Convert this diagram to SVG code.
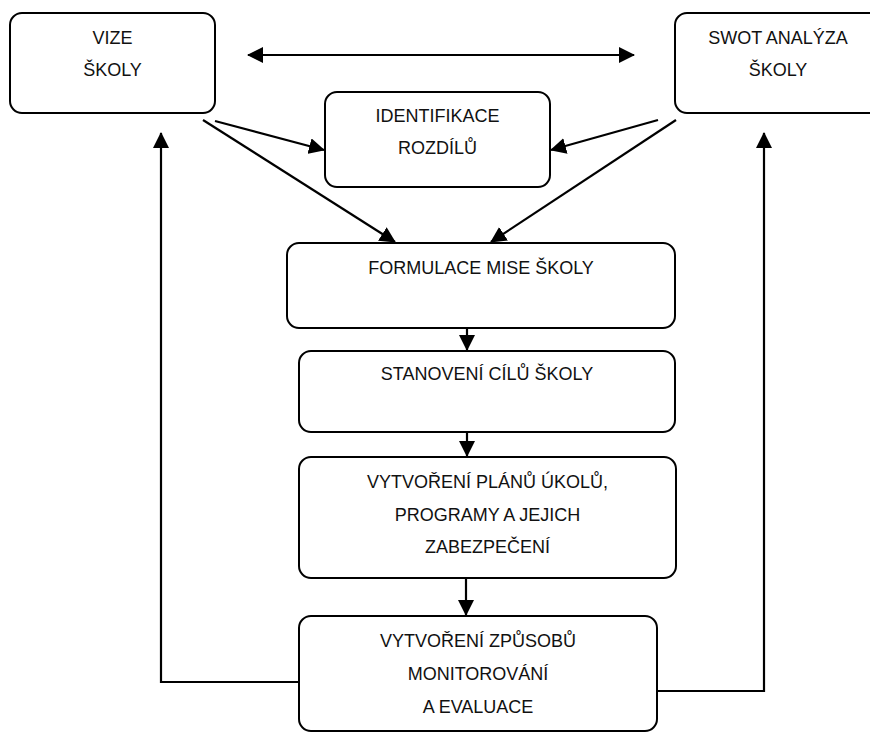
<svg xmlns="http://www.w3.org/2000/svg" width="870" height="733" viewBox="0 0 870 733">
<style>
.box{fill:#fff;stroke:#000;stroke-width:2}
.t{font-family:"Liberation Sans",Arial,sans-serif;font-size:18px;fill:#111;text-anchor:middle}
.c{fill:none;stroke:#000;stroke-width:2.2}
</style>
<defs>
<marker id="ah" viewBox="0 0 16 16" refX="15" refY="8" markerWidth="16" markerHeight="16" markerUnits="userSpaceOnUse" orient="auto-start-reverse">
<path d="M0,0 L16,8 L0,16 z" fill="#000"/>
</marker>
</defs>
<rect width="870" height="733" fill="#fff"/>
<g id="connectors">
<line class="c" x1="248" y1="55" x2="634" y2="55" marker-start="url(#ah)" marker-end="url(#ah)"/>
<line class="c" x1="215" y1="121" x2="324" y2="150" marker-end="url(#ah)"/>
<line class="c" x1="203" y1="120" x2="395" y2="242" marker-end="url(#ah)"/>
<line class="c" x1="658" y1="120" x2="551" y2="150" marker-end="url(#ah)"/>
<line class="c" x1="676" y1="120" x2="491" y2="242" marker-end="url(#ah)"/>
<line class="c" x1="467" y1="328" x2="467" y2="350" marker-end="url(#ah)"/>
<line class="c" x1="467" y1="432" x2="467" y2="456" marker-end="url(#ah)"/>
<line class="c" x1="466" y1="578" x2="466" y2="615" marker-end="url(#ah)"/>
<polyline class="c" points="299,682 161,682 161,133" marker-end="url(#ah)"/>
<polyline class="c" points="657,691 764,691 764,133" marker-end="url(#ah)"/>
</g>
<g id="vize">
<rect class="box" x="10" y="13" width="205" height="100" rx="12"/>
<text class="t" x="112.5" y="44">VIZE</text>
<text class="t" x="112.5" y="76">ŠKOLY</text>
</g>
<g id="swot">
<rect class="box" x="675" y="13" width="206" height="100" rx="12"/>
<text class="t" x="778" y="44">SWOT ANALÝZA</text>
<text class="t" x="778" y="76">ŠKOLY</text>
</g>
<g id="identifikace">
<rect class="box" x="325" y="92" width="225" height="95" rx="12"/>
<text class="t" x="437.5" y="122">IDENTIFIKACE</text>
<text class="t" x="437.5" y="154">ROZDÍLŮ</text>
</g>
<g id="formulace">
<rect class="box" x="287" y="243" width="388" height="85" rx="12"/>
<text class="t" x="481" y="274">FORMULACE MISE ŠKOLY</text>
</g>
<g id="stanoveni">
<rect class="box" x="299" y="351" width="376" height="81" rx="12"/>
<text class="t" x="487" y="380">STANOVENÍ CÍLŮ ŠKOLY</text>
</g>
<g id="plany">
<rect class="box" x="299" y="457" width="377" height="121" rx="12"/>
<text class="t" x="487.5" y="488">VYTVOŘENÍ PLÁNŮ ÚKOLŮ,</text>
<text class="t" x="487.5" y="521">PROGRAMY A JEJICH</text>
<text class="t" x="487.5" y="553">ZABEZPEČENÍ</text>
</g>
<g id="monitorovani">
<rect class="box" x="299" y="616" width="358" height="115" rx="12"/>
<text class="t" x="478" y="647">VYTVOŘENÍ ZPŮSOBŮ</text>
<text class="t" x="478" y="680">MONITOROVÁNÍ</text>
<text class="t" x="478" y="713">A EVALUACE</text>
</g>
</svg>
